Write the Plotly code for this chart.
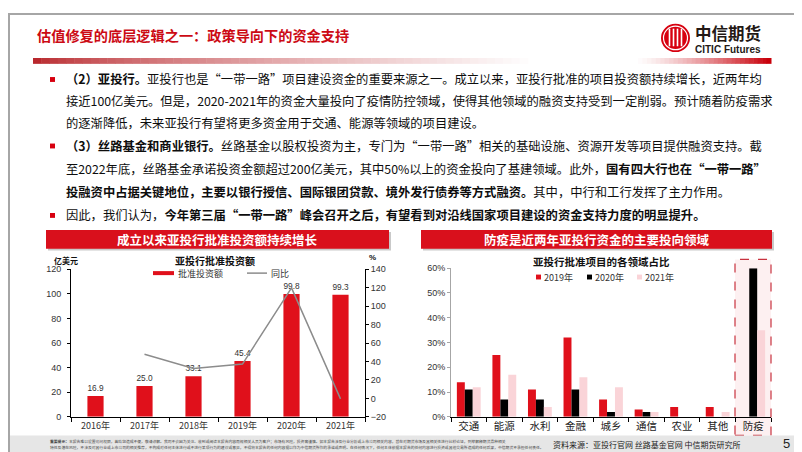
import plotly.graph_objects as go

# ---------------- data ----------------
years = ["2016年", "2017年", "2018年", "2019年", "2020年", "2021年"]
invest = [16.9, 25.0, 33.1, 45.4, 99.8, 99.3]          # 亿美元
yoy = [None, 47.9, 32.4, 37.2, 119.8, -0.5]            # %

sectors = ["交通", "能源", "水利", "金融", "城乡", "通信", "农业", "其他", "防疫"]
share_2019 = [14, 25, 11, 32, 7, 3, 4, 4, 0]
share_2020 = [11, 7, 7, 11, 2, 2, 0, 0, 60]
share_2021 = [12, 17, 4, 16, 12, 2, 0, 2, 35]

W, H = 802, 452
def px(x): return x / W
def py(y): return 1 - y / H

CJK = "Noto Sans CJK SC"
NUM = "Liberation Sans, Noto Sans CJK SC"
RED = "#d7000f"

fig = go.Figure()

# left chart
fig.add_trace(go.Bar(x=years, y=invest, xaxis="x", yaxis="y", width=0.33,
                     marker=dict(color="#e0101b", line=dict(width=0)),
                     text=[f"{v:.1f}" for v in invest], textposition="outside",
                     textfont=dict(size=9, color="#333", family=NUM),
                     cliponaxis=False, showlegend=False))
fig.add_trace(go.Scatter(x=years, y=yoy, xaxis="x", yaxis="y2", mode="lines",
                         line=dict(color="#8c8c8c", width=1.5), showlegend=False))

# right chart
for vals, col in [(share_2019, "#e0101b"), (share_2020, "#000000"), (share_2021, "#fad4d8")]:
    fig.add_trace(go.Bar(x=sectors, y=vals, xaxis="x3", yaxis="y3",
                         marker=dict(color=col, line=dict(width=0)), showlegend=False))

shapes = []
ann = []

# frame
shapes.append(dict(type="rect", xref="paper", yref="paper", x0=px(1), x1=px(801), y0=py(451), y1=py(1),
                   line=dict(color="#a6a6a6", width=2), fillcolor="rgba(0,0,0,0)", layer="above"))

# gradient bars under the title
n = 60
x0, x1 = 25, 520
for i in range(n):
    t = i / n
    r = int(185 + (255 - 185) * t ** 0.7)
    g = int(40 + (255 - 40) * t ** 0.7)
    b = int(45 + (255 - 45) * t ** 0.7)
    shapes.append(dict(type="rect", xref="paper", yref="paper",
                       x0=px(x0 + (x1 - x0) * i / n), x1=px(x0 + (x1 - x0) * (i + 1) / n + 0.5),
                       y0=py(52), y1=py(46), line=dict(width=0), fillcolor=f"rgb({r},{g},{b})"))
n2 = 30
x0, x1 = 630, 763
for i in range(n2):
    t = (i + 1) / n2
    r = int(255 + (200 - 255) * t ** 1.3)
    g = int(255 + (0 - 255) * t ** 1.3)
    b = int(255 + (10 - 255) * t ** 1.3)
    shapes.append(dict(type="rect", xref="paper", yref="paper",
                       x0=px(x0 + (x1 - x0) * i / n2), x1=px(x0 + (x1 - x0) * (i + 1) / n2 + 0.5),
                       y0=py(52), y1=py(46), line=dict(width=0), fillcolor=f"rgb({r},{g},{b})"))

# title
ann.append(dict(x=px(27), y=py(22), xref="paper", yref="paper", xanchor="left", yanchor="middle",
                text="<b>估值修复的底层逻辑之一：政策导向下的资金支持</b>", showarrow=False,
                font=dict(family=CJK, size=14.2, color="#cc0a14")))

# logo
shapes.append(dict(type="circle", xref="paper", yref="paper", x0=px(653), x1=px(682), y0=py(40), y1=py(11),
                   fillcolor=RED, line=dict(width=0)))
shapes.append(dict(type="circle", xref="paper", yref="paper", x0=px(655.5), x1=px(679.5), y0=py(37.5), y1=py(13.5),
                   fillcolor="rgba(0,0,0,0)", line=dict(color="white", width=1.2)))
for xx in [661.5, 665.5, 669.5, 673.5]:
    shapes.append(dict(type="line", xref="paper", yref="paper", x0=px(xx), x1=px(xx), y0=py(34), y1=py(16),
                       line=dict(color="white", width=1.6)))
ann.append(dict(x=px(685), y=py(20), xref="paper", yref="paper", xanchor="left", yanchor="middle",
                text="<b>中信期货</b>", showarrow=False, font=dict(family=CJK, size=16.5, color="#231815")))
ann.append(dict(x=px(685), y=py(37), xref="paper", yref="paper", xanchor="left", yanchor="middle",
                text="<b>CITIC Futures</b>", showarrow=False, font=dict(family=NUM, size=10, color="#231815")))

# body text
lines = [
    (68, "<b>（2）亚投行。</b>亚投行也是“一带一路”项目建设资金的重要来源之一。成立以来，亚投行批准的项目投资额持续增长，近两年均", True),
    (90, "接近100亿美元。但是，2020-2021年的资金大量投向了疫情防控领域，使得其他领域的融资支持受到一定削弱。预计随着防疫需求", False),
    (112, "的逐渐降低，未来亚投行有望将更多资金用于交通、能源等领域的项目建设。", False),
    (136, "<b>（3）丝路基金和商业银行。</b>丝路基金以股权投资为主，专门为“一带一路”相关的基础设施、资源开发等项目提供融资支持。截", True),
    (160, "至2022年底，丝路基金承诺投资金额超过200亿美元，其中50%以上的资金投向了基建领域。此外，<b>国有四大行也在“一带一路”</b>", False),
    (183, "<b>投融资中占据关键地位，主要以银行授信、国际银团贷款、境外发行债券等方式融资。</b>其中，中行和工行发挥了主力作用。", False),
    (207, "因此，我们认为，<b>今年第三届“一带一路”峰会召开之后，有望看到对沿线国家项目建设的资金支持力度的明显提升。</b>", True),
]
for yc, txt, bullet in lines:
    ann.append(dict(x=px(56), y=py(yc), xref="paper", yref="paper", xanchor="left", yanchor="middle",
                    text=txt, showarrow=False, font=dict(family=CJK, size=12.3, color="#0d0d0d")))
    if bullet:
        shapes.append(dict(type="rect", xref="paper", yref="paper", x0=px(42), x1=px(47), y0=py(yc + 2.5), y1=py(yc - 2.5),
                           fillcolor=RED, line=dict(width=0)))

# section headers
for (a, b, label) in [(38, 381, "成立以来亚投行批准投资额持续增长"), (413, 764, "防疫是近两年亚投行资金的主要投向领域")]:
    shapes.append(dict(type="rect", xref="paper", yref="paper", x0=px(a + 2), x1=px(b + 2), y0=py(243), y1=py(224),
                       fillcolor="#c9c9c9", line=dict(width=0)))
    shapes.append(dict(type="rect", xref="paper", yref="paper", x0=px(a), x1=px(b), y0=py(241), y1=py(222),
                       fillcolor="#d9101c", line=dict(width=0)))
    ann.append(dict(x=px((a + b) / 2), y=py(231.5), xref="paper", yref="paper", xanchor="center", yanchor="middle",
                    text=f"<b>{label}</b>", showarrow=False, font=dict(family=CJK, size=12.5, color="white")))

# left chart decorations
ann.append(dict(x=px(207), y=py(253), xref="paper", yref="paper", xanchor="center", yanchor="middle",
                text="<b>亚投行批准投资额</b>", showarrow=False, font=dict(family=CJK, size=10, color="#111")))
ann.append(dict(x=px(58), y=py(253), xref="paper", yref="paper", xanchor="center", yanchor="middle",
                text="<b>亿美元</b>", showarrow=False, font=dict(family=CJK, size=8, color="#111")))
ann.append(dict(x=px(364), y=py(250), xref="paper", yref="paper", xanchor="center", yanchor="middle",
                text="<b>%</b>", showarrow=False, font=dict(family=NUM, size=8, color="#111")))
shapes.append(dict(type="line", xref="paper", yref="paper", x0=px(145), x1=px(166), y0=py(266), y1=py(266),
                   line=dict(color="#e0101b", width=4)))
ann.append(dict(x=px(168), y=py(266), xref="paper", yref="paper", xanchor="left", yanchor="middle",
                text="批准投资额", showarrow=False, font=dict(family=CJK, size=9, color="#333")))
shapes.append(dict(type="line", xref="paper", yref="paper", x0=px(239), x1=px(259), y0=py(266), y1=py(266),
                   line=dict(color="#8c8c8c", width=1.5)))
ann.append(dict(x=px(261), y=py(266), xref="paper", yref="paper", xanchor="left", yanchor="middle",
                text="同比", showarrow=False, font=dict(family=CJK, size=9, color="#333")))

# right chart decorations
shapes.append(dict(type="rect", xref="paper", yref="paper", x0=px(727), x1=px(763), y0=py(432), y1=py(252),
                   fillcolor="rgba(251,222,225,0.45)", line=dict(color="#c8323f", width=1.2, dash="dash"),
                   layer="below"))
ann.append(dict(x=px(593), y=py(254), xref="paper", yref="paper", xanchor="center", yanchor="middle",
                text="<b>亚投行批准项目的各领域占比</b>", showarrow=False, font=dict(family=CJK, size=10.5, color="#111")))
for lx, col, lab in [(528, "#e0101b", "2019年"), (579, "#000000", "2020年"), (629, "#fad4d8", "2021年")]:
    shapes.append(dict(type="rect", xref="paper", yref="paper", x0=px(lx), x1=px(lx + 5), y0=py(272.5), y1=py(267.5),
                       fillcolor=col, line=dict(width=0)))
    ann.append(dict(x=px(lx + 6), y=py(270), xref="paper", yref="paper", xanchor="left", yanchor="middle",
                    text=lab, showarrow=False, font=dict(family=CJK, size=9, color="#333")))

# footer
shapes.append(dict(type="rect", xref="paper", yref="paper", x0=px(2), x1=px(800), y0=py(450), y1=py(432),
                   fillcolor="#e6e6e6", line=dict(width=0), layer="below"))
disc1 = ("<b>重要提示：</b>本报告难以设置访问权限，若给您造成不便，敬请谅解。我司不会因为关注、收到或阅读本报告内容而视相关人员为客户；"
         "市场有风险，投资需谨慎。如本报告涉及行业分析或上市公司相关内容，旨在对期货市场及其相关性进行比较论证，列举解释期货品种相关")
disc2 = ("特性及潜在风险，不涉及对其行业或上市公司的相关推荐，不构成对任何主体进行或不进行某项行为的建议或意见，不得将本报告的任何内容据以作为"
         "中信期货所作的承诺或声明。在任何情况下，任何主体依据本报告的任何内容进行投资或其他交易所造成的任何后果，中信期货不承担任何责任。")
ann.append(dict(x=px(40), y=py(438), xref="paper", yref="paper", xanchor="left", yanchor="middle",
                text=disc1, showarrow=False, font=dict(family=CJK, size=3.8, color="#444")))
ann.append(dict(x=px(40), y=py(444.5), xref="paper", yref="paper", xanchor="left", yanchor="middle",
                text=disc2, showarrow=False, font=dict(family=CJK, size=3.8, color="#444")))
ann.append(dict(x=px(543), y=py(441), xref="paper", yref="paper", xanchor="left", yanchor="middle",
                text="资料来源：亚投行官网 丝路基金官网 中信期货研究所", showarrow=False,
                font=dict(family=CJK, size=8, color="#222")))
ann.append(dict(x=px(778), y=py(440), xref="paper", yref="paper", xanchor="center", yanchor="middle",
                text="5", showarrow=False, font=dict(family=NUM, size=13, color="#222")))

axis_common = dict(showgrid=False, zeroline=False, showline=True, linewidth=1, ticks="outside")

fig.update_layout(
    width=W, height=H, autosize=False, margin=dict(l=0, r=0, t=0, b=0),
    paper_bgcolor="white", plot_bgcolor="rgba(0,0,0,0)",
    barmode="group", bargap=0.33, bargroupgap=0,
    shapes=shapes, annotations=ann,
    xaxis=dict(domain=[px(63), px(357)], anchor="y", type="category", linecolor="#000", tickcolor="#000",
               tickson="boundaries", ticklen=4, tickfont=dict(family=CJK, size=9, color="#333"), **axis_common),
    yaxis=dict(domain=[py(413), py(262)], anchor="x", range=[0, 120], dtick=20, linecolor="#000", tickcolor="#000",
               ticklen=3, ticklabelstandoff=4, tickfont=dict(family=NUM, size=9, color="#333"), **axis_common),
    yaxis2=dict(overlaying="y", side="right", anchor="x", range=[-20, 140], dtick=20, linecolor="#000",
                tickcolor="#000", ticklen=3, tickfont=dict(family=NUM, size=9, color="#333"), **axis_common),
    xaxis3=dict(domain=[px(443), px(763)], anchor="y3", type="category", linecolor="#000", tickcolor="#000",
                tickson="boundaries", ticklen=4, tickfont=dict(family=CJK, size=10.5, color="#222"), **axis_common),
    yaxis3=dict(domain=[py(413), py(261)], anchor="x3", range=[0, 60], dtick=10, ticksuffix="%",
                linecolor="#a6a6a6", tickcolor="#a6a6a6", ticklen=3,
                tickfont=dict(family=NUM, size=9, color="#333"), **axis_common),
)

fig.write_html("out.html")
